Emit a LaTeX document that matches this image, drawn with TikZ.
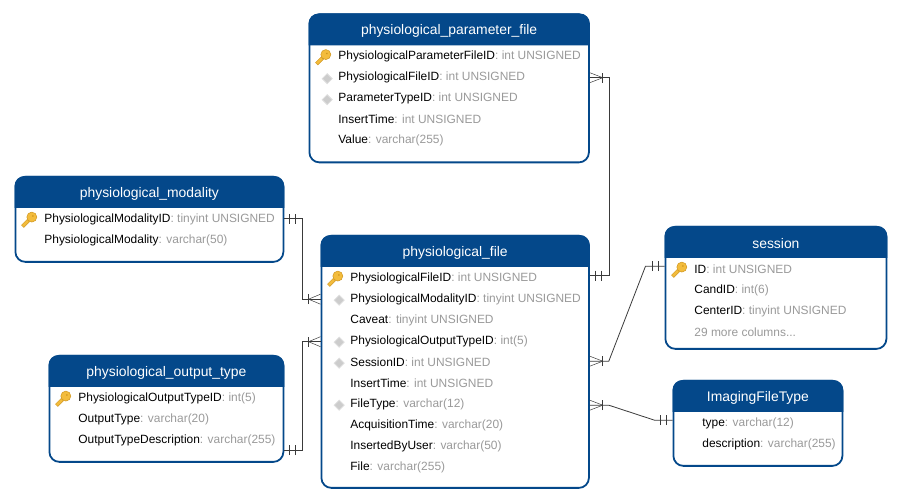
\documentclass[tikz,border=0pt]{standalone}
\usepackage{fontspec}
\setmainfont{Liberation Sans}
\usetikzlibrary{positioning,decorations.markings}

\definecolor{headblue}{HTML}{04488A}
\definecolor{typegrey}{HTML}{9A9A9A}
\definecolor{linkgrey}{HTML}{3A3A3A}
\definecolor{keygold}{HTML}{F3BC3C}
\definecolor{keyedge}{HTML}{D0961E}

\tikzset{
  tablebox/.style={draw=headblue,line width=1.8pt,rounded corners=10pt,fill=white,inner sep=0pt,anchor=north west},
  tabletitle/.style={text=white,font=\fontsize{13.9pt}{16pt}\selectfont,inner sep=0pt},
  rowtext/.style={anchor=west,inner sep=0pt,font=\fontsize{11.95pt}{14pt}\selectfont},
  link/.style={draw=linkgrey,line width=0.8pt},
  onestart/.style={postaction={decorate,decoration={markings,
    mark=at position 5pt with {\draw[link] (0,-5pt) -- (0,5pt);},
    mark=at position 11pt with {\draw[link] (0,-5pt) -- (0,5pt);}}}},
  oneend/.style={postaction={decorate,decoration={markings,
    mark=at position -6pt with {\draw[link] (0,-5pt) -- (0,5pt);},
    mark=at position -12pt with {\draw[link] (0,-5pt) -- (0,5pt);}}}},
  crowstart/.style={postaction={decorate,decoration={markings,
    mark=at position 13pt with {\draw[link] (0,-5pt) -- (0,5pt);
      \draw[link,line width=0.5pt] (0,0) -- (-13pt,5pt) (0,0) -- (-13pt,-5pt);}}}},
  crowend/.style={postaction={decorate,decoration={markings,
    mark=at position -12pt with {\draw[link] (0,-5pt) -- (0,5pt);
      \draw[link,line width=0.5pt] (0,0) -- (12pt,5pt) (0,0) -- (12pt,-5pt);}}}},
}

% name, width, height, title
\newcommand{\erTable}[5]{
  \node[tablebox,minimum width=#2pt,minimum height=#3pt] (#1) at #4 {};
  \fill[headblue] ([yshift=-32pt]#1.north west) [rounded corners=10pt] -- (#1.north west)
    -- (#1.north east) [sharp corners] -- ([yshift=-32pt]#1.north east) -- cycle;
  \node[tabletitle] (#1title) at ([yshift=-17.5pt]#1.north) {#5};
}
% table, row number, field, type
\newcommand{\erRow}[4]{
  \node[rowtext] (#1r#2) at ([xshift=29.7pt,yshift={-22.2pt-21pt*#2}]#1.north west)
    {#3\textcolor{typegrey}{: #4}};
}
\newcommand{\erKey}[2]{
  \begin{scope}[shift={([xshift=-14.5pt]#1r#2.west)},rotate=45]
    \draw[keyedge,fill=keygold,line width=0.5pt] (-2pt,-1.6pt) rectangle (-10pt,1.6pt);
    \draw[keyedge,fill=keygold,line width=0.5pt] (3pt,0) circle (5pt);
    \fill[keyedge] (4.5pt,0pt) circle (1pt);
  \end{scope}
}
\newcommand{\erDiamond}[2]{
  \draw[fill=black!20,draw=black!13,line width=0.8pt] ([xshift=-16pt,yshift=-1pt]#1r#2.west) -- ++(5pt,5pt) -- ++(5pt,-5pt) -- ++(-5pt,-5pt) -- cycle;
}

\begin{document}
\begin{tikzpicture}[x=1pt,y=-1pt]
  \useasboundingbox (0,0) rectangle (900,502);

  \erTable{param}{279.5}{148}{(308.5,13.5)}{physiological\_parameter\_file}
  \erTable{modality}{268}{85}{(14.5,176)}{physiological\_modality}
  \erTable{file}{267.5}{252}{(320.5,235)}{physiological\_file}
  \erTable{output}{234}{106}{(48.5,355)}{physiological\_output\_type}
  \erTable{session}{221}{122}{(664.5,226)}{session}
  \erTable{imaging}{169}{85}{(672.5,380)}{ImagingFileType}

  \erRow{param}{1}{PhysiologicalParameterFileID}{int UNSIGNED}
  \erRow{param}{2}{PhysiologicalFileID}{int UNSIGNED}
  \erRow{param}{3}{ParameterTypeID}{int UNSIGNED}
  \erRow{param}{4}{InsertTime}{int UNSIGNED}
  \erRow{param}{5}{Value}{varchar(255)}
  \erKey{param}{1}
  \erDiamond{param}{2}
  \erDiamond{param}{3}

  \erRow{modality}{1}{PhysiologicalModalityID}{tinyint UNSIGNED}
  \erRow{modality}{2}{PhysiologicalModality}{varchar(50)}
  \erKey{modality}{1}

  \erRow{file}{1}{PhysiologicalFileID}{int UNSIGNED}
  \erRow{file}{2}{PhysiologicalModalityID}{tinyint UNSIGNED}
  \erRow{file}{3}{Caveat}{tinyint UNSIGNED}
  \erRow{file}{4}{PhysiologicalOutputTypeID}{int(5)}
  \erRow{file}{5}{SessionID}{int UNSIGNED}
  \erRow{file}{6}{InsertTime}{int UNSIGNED}
  \erRow{file}{7}{FileType}{varchar(12)}
  \erRow{file}{8}{AcquisitionTime}{varchar(20)}
  \erRow{file}{9}{InsertedByUser}{varchar(50)}
  \erRow{file}{10}{File}{varchar(255)}
  \erKey{file}{1}
  \erDiamond{file}{2}
  \erDiamond{file}{4}
  \erDiamond{file}{5}
  \erDiamond{file}{7}

  \erRow{output}{1}{PhysiologicalOutputTypeID}{int(5)}
  \erRow{output}{2}{OutputType}{varchar(20)}
  \erRow{output}{3}{OutputTypeDescription}{varchar(255)}
  \erKey{output}{1}

  \erRow{session}{1}{ID}{int UNSIGNED}
  \erRow{session}{2}{CandID}{int(6)}
  \erRow{session}{3}{CenterID}{tinyint UNSIGNED}
  \node[rowtext,text=typegrey] (sessionr4) at ([xshift=29.7pt,yshift=-106.2pt]session.north west) {29 more columns...};
  \erKey{session}{1}

  \erRow{imaging}{1}{type}{varchar(12)}
  \erRow{imaging}{2}{description}{varchar(255)}

  % connector ends on the table borders
  \coordinate (paramfk) at (param.east |- paramr2);
  \coordinate (fileparam) at ([yshift=2.5pt]file.east |- filer1);
  \coordinate (modalitypk) at ([yshift=0.5pt]modality.east |- modalityr1);
  \coordinate (filemodality) at (file.west |- filer2);
  \coordinate (outputpk) at ([yshift=-10pt]output.east |- outputr3);
  \coordinate (fileoutput) at ([yshift=-0.5pt]file.west |- filer4);
  \coordinate (filesession) at ([yshift=1pt]file.east |- filer5);
  \coordinate (sessionpk) at ([yshift=3pt]session.west |- sessionr1);
  \coordinate (filetype) at ([yshift=-1pt]file.east |- filer7);
  \coordinate (imagingpk) at ([yshift=3pt]imaging.west |- imagingr1);

  \draw[link,crowstart,oneend] (paramfk) -- ++(19.5,0) |- (fileparam);
  \draw[link,onestart,crowend] (modalitypk) -- ++(18,0) |- (filemodality);
  \draw[link,onestart,crowend] (outputpk) -- ++(18,0) |- (fileoutput);
  \draw[link,crowstart,oneend] (filesession) -- ++(19,0) -- ([xshift=-19pt]sessionpk) -- (sessionpk);
  \draw[link,crowstart,oneend] (filetype) -- ++(19,0) -- ([xshift=-18pt]imagingpk) -- (imagingpk);
\end{tikzpicture}
\end{document}
